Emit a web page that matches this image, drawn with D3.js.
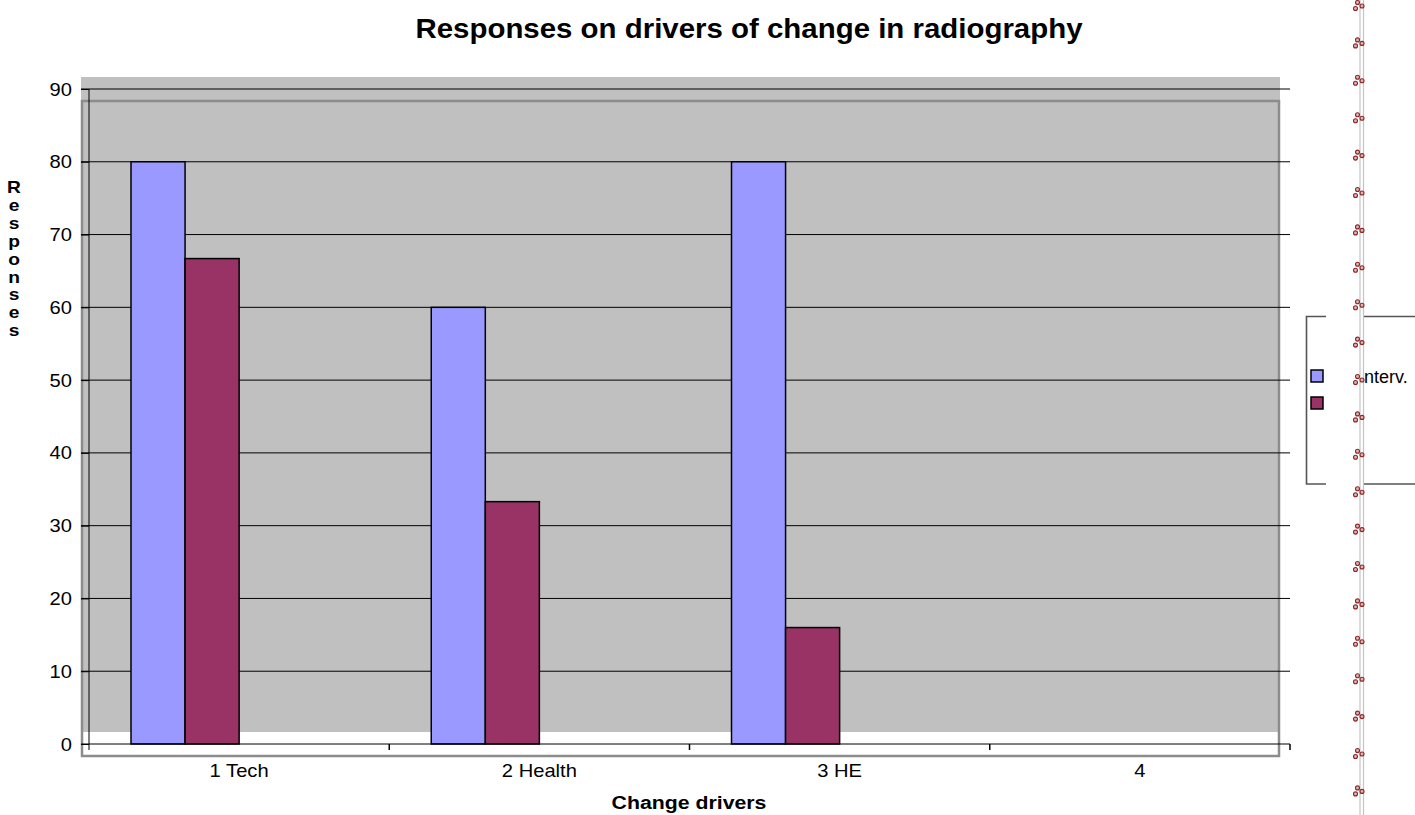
<!DOCTYPE html>
<html>
<head>
<meta charset="utf-8">
<script src="https://cdn.jsdelivr.net/npm/d3@7"></script>
<style>
  html, body { margin: 0; padding: 0; background: #fff; }
  svg { display: block; font-family: "Liberation Sans", Arial, sans-serif; }
</style>
</head>
<body>
<svg id="chart" width="1415" height="815"></svg>
<script>
// Chart data
const categories = ["1 Tech", "2 Health", "3 HE", "4"];
const seriesSlots = ["s1", "s2", "s3", "s4"];
const seriesInterv = [80, 60, 80, null];
const seriesSecond = [66.7, 33.3, 16, null];
const yTicks = [0, 10, 20, 30, 40, 50, 60, 70, 80, 90];
const titleText = "Responses on drivers of change in radiography";
const xTitle = "Change drivers";
const yTitle = "Responses";
const legendLabel = "nterv.";

const svg = d3.select("#chart");

const plot = { left: 89, right: 1290, top: 89, bottom: 744 };
const TEXT_STRETCH = 1.12; // chart text is set slightly wide

const x = d3.scaleBand().domain(categories).range([plot.left, plot.right]);
const xSub = d3.scaleBand().domain(seriesSlots).range([42, x.bandwidth() - 42]);
const y = d3.scaleLinear().domain([0, 90]).range([plot.bottom, plot.top]);

// Places a horizontally widened text at (tx, ty)
function wideText(sel, tx, ty, sx) {
  return sel.attr("x", 0).attr("y", 0)
    .attr("transform", (d, i) => {
      const px = typeof tx === "function" ? tx(d, i) : tx;
      const py = typeof ty === "function" ? ty(d, i) : ty;
      return `translate(${px},${py}) scale(${sx},1)`;
    });
}

// Plot background and frame
svg.append("rect").attr("x", 81).attr("y", 77).attr("width", 1199).attr("height", 655)
  .attr("fill", "#c0c0c0");
svg.append("rect").attr("x", 82).attr("y", 101).attr("width", 1197).attr("height", 655)
  .attr("fill", "none").attr("stroke", "#8c8c8c").attr("stroke-width", 2.5);

// Gridlines
svg.append("g").selectAll("line").data(yTicks.filter(d => d > 0)).join("line")
  .attr("x1", 81).attr("x2", plot.right)
  .attr("y1", d => y(d)).attr("y2", d => y(d))
  .attr("stroke", "#000").attr("stroke-width", 1);

// Y axis ticks and labels
const yAxis = svg.append("g").attr("transform", `translate(${plot.left},0)`)
  .call(d3.axisLeft(y).tickValues(yTicks).tickSize(8).tickFormat(""));
yAxis.select(".domain").remove();
yAxis.selectAll(".tick line").attr("stroke", "#000");
svg.append("g").selectAll("text").data(yTicks).join("text")
  .call(s => wideText(s, 72, d => y(d) + 6.5, TEXT_STRETCH))
  .attr("text-anchor", "end").attr("font-size", 18).text(d => d);
svg.append("line").attr("x1", plot.left).attr("x2", plot.left)
  .attr("y1", plot.top).attr("y2", plot.bottom + 6).attr("stroke", "#000");

// Bars
const groups = svg.append("g").selectAll("g").data(categories).join("g")
  .attr("transform", d => `translate(${x(d)},0)`);
const barData = (c, i) => [
  { slot: "s1", v: seriesInterv[i], color: "#9999ff" },
  { slot: "s2", v: seriesSecond[i], color: "#993366" }
].filter(b => b.v != null);
groups.selectAll("rect").data((c, i) => barData(c, i)).join("rect")
  .attr("x", d => xSub(d.slot))
  .attr("width", xSub.bandwidth())
  .attr("y", d => y(d.v))
  .attr("height", d => y(0) - y(d.v))
  .attr("fill", d => d.color)
  .attr("stroke", "#000").attr("stroke-width", 1.5);

// X axis
svg.append("line").attr("x1", 81).attr("x2", plot.right)
  .attr("y1", plot.bottom).attr("y2", plot.bottom).attr("stroke", "#000");
const boundaries = categories.map(c => x(c) + x.bandwidth());
svg.append("g").selectAll("line").data(boundaries).join("line")
  .attr("x1", d => d).attr("x2", d => d)
  .attr("y1", plot.bottom).attr("y2", plot.bottom + 6)
  .attr("stroke", "#000").attr("stroke-width", 1.5);
svg.append("g").selectAll("text").data(categories).join("text")
  .call(s => wideText(s, d => x(d) + x.bandwidth() / 2, 777, TEXT_STRETCH))
  .attr("text-anchor", "middle").attr("font-size", 18).text(d => d);

// Titles
svg.append("text")
  .call(s => wideText(s, 749, 38, 1.09))
  .attr("text-anchor", "middle").attr("font-size", 27).attr("font-weight", "bold").text(titleText);
svg.append("text")
  .call(s => wideText(s, 689, 809, TEXT_STRETCH))
  .attr("text-anchor", "middle").attr("font-size", 19).attr("font-weight", "bold").text(xTitle);
svg.append("g").selectAll("text").data(yTitle.split("")).join("text")
  .call(s => wideText(s, 14, (d, i) => 193 + i * 17.9, 1.2))
  .attr("text-anchor", "middle").attr("font-size", 16).attr("font-weight", "bold")
  .text(d => d);

// Legend
const legend = svg.append("g");
legend.append("path")
  .attr("d", "M1326,316.5 H1306.5 V484 H1326 M1364,316.5 H1416 M1364,484 H1416")
  .attr("fill", "none").attr("stroke", "#555").attr("stroke-width", 1.6);
legend.append("rect").attr("x", 1311).attr("y", 370).attr("width", 12).attr("height", 12)
  .attr("fill", "#9999ff").attr("stroke", "#000").attr("stroke-width", 1.5);
legend.append("rect").attr("x", 1311).attr("y", 397).attr("width", 12).attr("height", 12)
  .attr("fill", "#993366").attr("stroke", "#000").attr("stroke-width", 1.5);
legend.append("text").attr("x", 1364).attr("y", 383).attr("font-size", 18).text(legendLabel);

// Decorative border strip
const strip = svg.append("g");
strip.append("line").attr("x1", 1360).attr("x2", 1360).attr("y1", 0).attr("y2", 815)
  .attr("stroke", "#c4c4c4").attr("stroke-width", 1.2);
strip.append("line").attr("x1", 1363.5).attr("x2", 1363.5).attr("y1", 0).attr("y2", 815)
  .attr("stroke", "#c4c4c4").attr("stroke-width", 1.2);
const knots = d3.range(0, 22).map(i => 6 + i * 37.4);
const knotG = strip.selectAll("g").data(knots).join("g")
  .attr("transform", d => `translate(0,${d})`);
knotG.selectAll("circle").data([[1357.5, -3.5], [1362, 0], [1355.5, 2.5]]).join("circle")
  .attr("cx", d => d[0]).attr("cy", d => d[1]).attr("r", 2)
  .attr("fill", "#d6b8b8").attr("stroke", "#8e2424").attr("stroke-width", 1.1);
</script>
</body>
</html>
